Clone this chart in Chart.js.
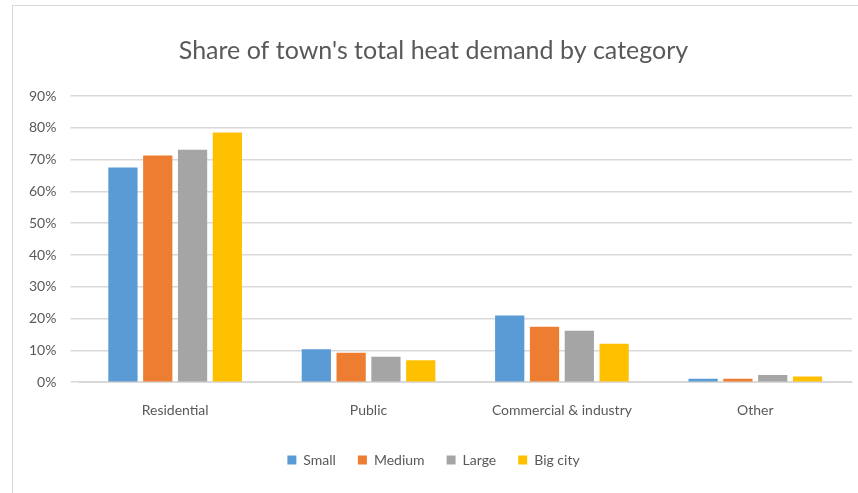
<!DOCTYPE html>
<html>
<head>
<meta charset="utf-8">
<script src="https://cdn.jsdelivr.net/npm/chart.js@4"></script>
<style>
  html, body { margin: 0; padding: 0; background: #fff; }
  #wrap { position: absolute; left: 12px; top: 5px; width: 846px; height: 488px; border: 1px solid #d9d9d9; border-right: none; border-bottom: none; box-sizing: border-box; }
</style>
</head>
<body>
<div id="wrap"><canvas id="heatChart"></canvas></div>
<script>
// categories and series (share of total heat demand, %)
const categories = ['Residential', 'Public', 'Commercial & industry', 'Other'];
const small   = [67.5, 10.4, 21.0, 1.1];
const medium  = [71.3, 9.3, 17.4, 1.1];
const large   = [73.1, 8.0, 16.2, 2.3];
const bigCity = [78.5, 6.9, 12.1, 1.8];

const seriesNames  = ['Small', 'Medium', 'Large', 'Big city'];
const seriesColors = ['#5b9bd5', '#ed7d31', '#a5a5a5', '#ffc000'];
const seriesData   = [small, medium, large, bigCity];

const font = "Lato, 'Open Sans', sans-serif";

const ctx = document.getElementById('heatChart').getContext('2d');
new Chart(ctx, {
  type: 'bar',
  data: {
    labels: categories,
    datasets: seriesData.map(function(d, i) {
      return {
        label: seriesNames[i],
        data: d,
        backgroundColor: seriesColors[i],
        barPercentage: 0.84,
        categoryPercentage: 0.72
      };
    })
  },
  options: {
    responsive: true,
    maintainAspectRatio: false,
    animation: false,
    layout: { padding: { left: 2, right: 6, top: 8, bottom: 16 } },
    plugins: {
      title: {
        display: true,
        text: "Share of town's total heat demand by category",
        color: '#595959',
        font: { family: font, size: 25, weight: 'normal' },
        padding: { top: 22, bottom: 30 }
      },
      legend: {
        position: 'bottom',
        labels: {
          color: '#595959',
          font: { family: font, size: 14 },
          boxWidth: 9,
          boxHeight: 9,
          padding: 22
        }
      },
      tooltip: { enabled: false }
    },
    scales: {
      x: {
        grid: { display: false },
        border: { color: '#d9d9d9' },
        ticks: { color: '#595959', font: { family: font, size: 14 }, padding: 12 }
      },
      y: {
        min: 0,
        max: 90,
        ticks: {
          stepSize: 10,
          color: '#595959',
          font: { family: font, size: 14 },
          padding: 14,
          callback: function(v) { return v + '%'; }
        },
        grid: { color: '#d9d9d9', lineWidth: 1.5 },
        border: { display: false }
      }
    }
  }
});
</script>
</body>
</html>
